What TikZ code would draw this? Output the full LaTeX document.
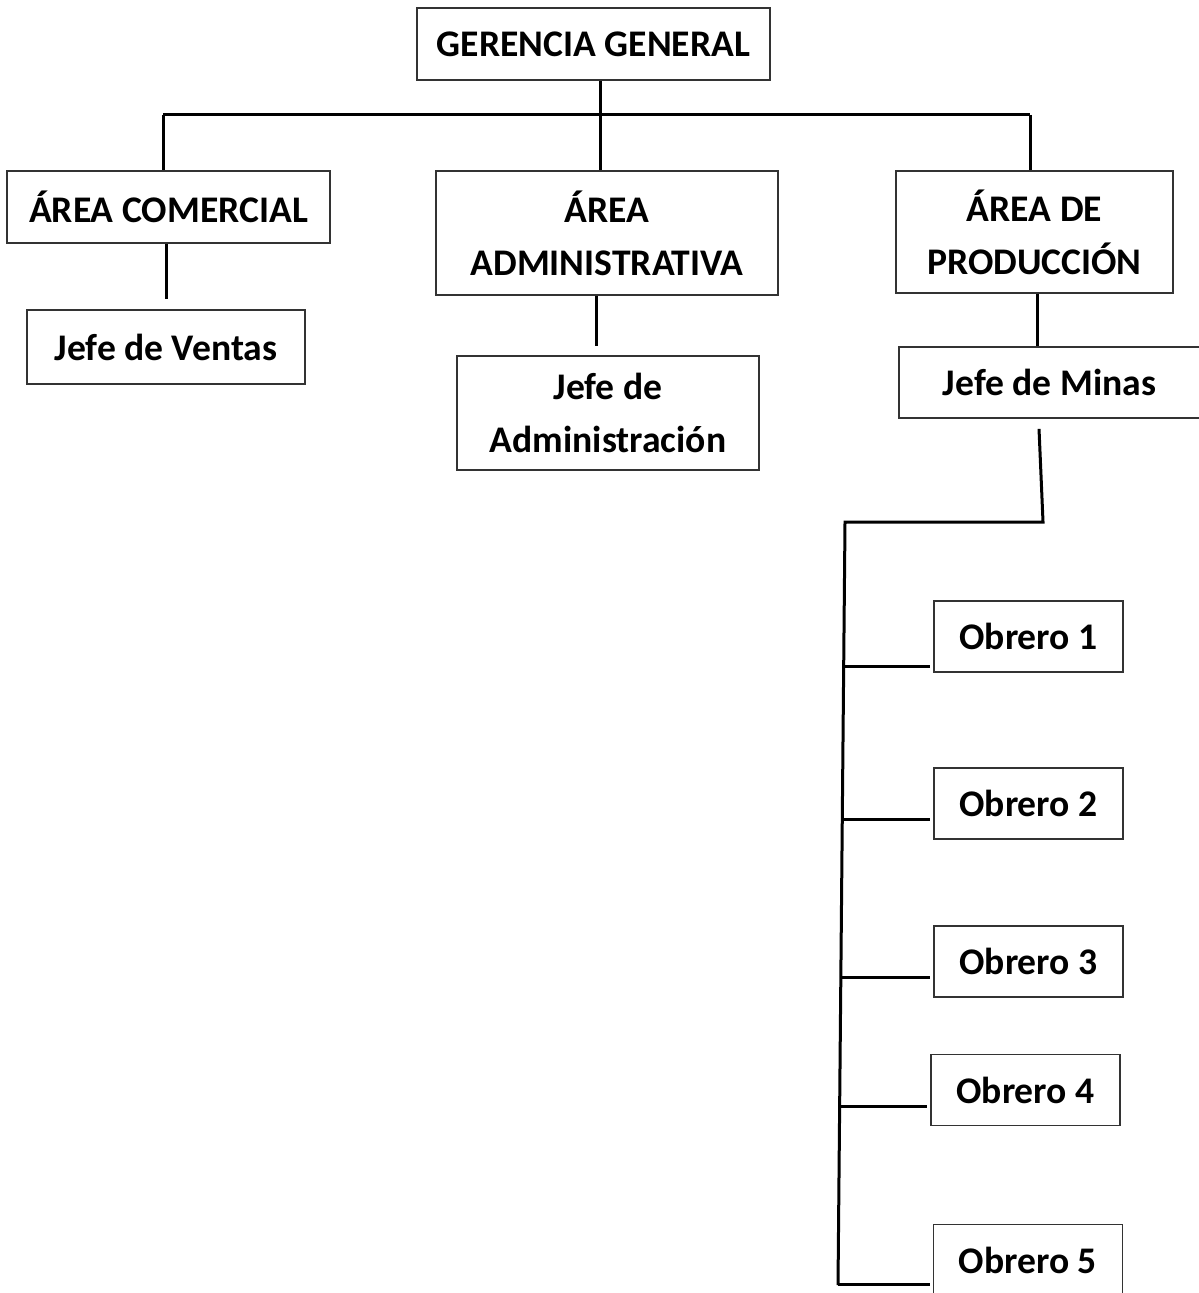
\documentclass[tikz,border=0pt]{standalone}
\usepackage{fontspec}
\setmainfont{Carlito}

\begin{document}
\begin{tikzpicture}[x=0.5pt, y=-0.5pt,
    every node/.style={font=\bfseries\fontsize{18.8}{26.5}\selectfont, align=center, inner sep=0pt},
    box/.style={draw=black!80, line width=0.9pt},
    link/.style={line width=1.5pt}]
    \useasboundingbox (0,0) rectangle (1198,1293);
    % cajas
    \node[box, minimum width=176.5pt, minimum height=36pt] (gg) at (593.5,44) {GERENCIA GENERAL};
    \node[box, minimum width=161.5pt, minimum height=36pt] (ac) at (168.5,207) {ÁREA COMERCIAL};
    \node[box, minimum width=171pt, minimum height=62pt] (aa) at (607,233) {ÁREA\\ADMINISTRATIVA};
    \node[box, minimum width=138.5pt, minimum height=61pt] (ap) at (1034.5,232) {ÁREA DE\\PRODUCCIÓN};
    \node[box, minimum width=139pt, minimum height=37pt] (jv) at (166,347) {Jefe de Ventas};
    \node[box, minimum width=151pt, minimum height=57pt] (ja) at (608,413) {Jefe de\\Administración};
    \node[box, minimum width=150.5pt, minimum height=35.5pt] (jm) at (1049.5,382.5) {Jefe de Minas};
    \foreach \i/\x/\y in {1/1028.5/636.5, 2/1028.5/803.5, 3/1028.5/961.5, 4/1025.5/1090, 5/1028/1260}
        \node[box, minimum width=94.5pt, minimum height=35.5pt] (o\i) at (\x,\y) {Obrero \i};
    % lineas
    \coordinate (bL) at (163,115);
    \coordinate (bM) at (600,115);
    \coordinate (bR) at (1030,115);
    \coordinate (aaj) at (596,300);
    \coordinate (apj) at (1037,300);
    \coordinate (jmx) at (1043,522);
    \coordinate (busT) at (845,522);
    \coordinate (busB) at (838,1285);
    \draw[link] (bL) -- (bR);
    \draw[link] (gg.south -| bM) -- (aa.north -| bM);
    \draw[link] (bL) -- (ac.north -| bL);
    \draw[link] (bR) -- (ap.north -| bR);
    \draw[link, shorten >=5pt] (ac.south -| jv.north) -- (jv.north);
    \draw[link, shorten >=4.5pt] (aa.south -| aaj) -- (ja.north -| aaj);
    \draw[link] (ap.south -| apj) -- (jm.north -| apj);
    \draw[link] ([xshift=-5.25pt, yshift=-5pt]jm.south) -- (jmx) -- (busT) -- (busB);
    \foreach \i/\x/\y in {1/843.7/666, 2/842.3/819, 3/840.8/977, 4/839.6/1106, 5/838/1284} {
        \coordinate (t\i) at (\x,\y);
        \draw[link, shorten >=1.5pt] (t\i) -- (o\i.west |- t\i);
    }
\end{tikzpicture}
\end{document}
